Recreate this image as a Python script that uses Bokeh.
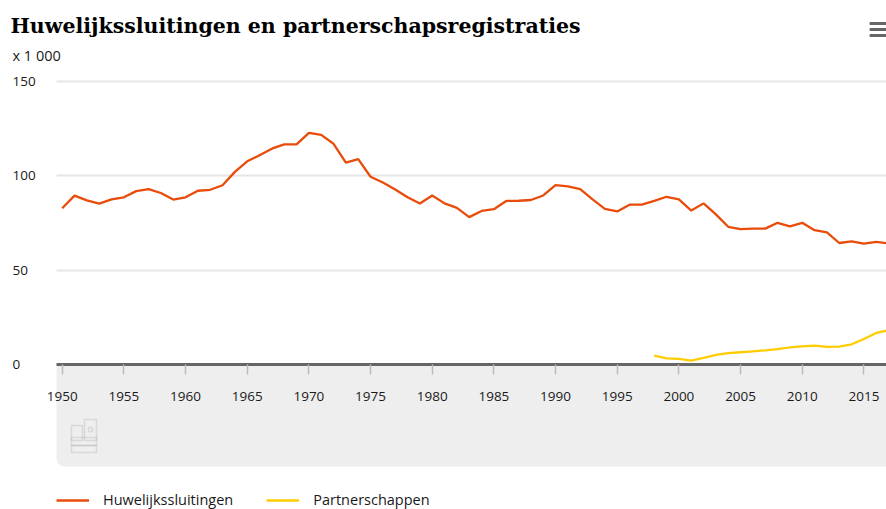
from bokeh.plotting import figure
from bokeh.models import (Range1d, FixedTicker, BoxAnnotation, LabelSet, Label,
                          ColumnDataSource, Legend, LegendItem)
from bokeh.core.properties import value
from bokeh.embed import file_html
from bokeh.resources import INLINE

# ---------------- data (x 1 000) ----------------
years_huwelijk = list(range(1950, 2018))
huwelijkssluitingen = [82.8, 89.5, 87.0, 85.3, 87.5, 88.6, 91.9, 93.0, 90.9, 87.4,
                       88.6, 92.1, 92.6, 95.0, 102.1, 107.7, 110.9, 114.4, 116.7, 116.7,
                       122.8, 121.7, 117.0, 107.0, 108.9, 99.5, 96.5, 92.8, 88.6, 85.3,
                       89.6, 85.4, 83.0, 78.1, 81.4, 82.3, 86.7, 86.8, 87.2, 89.6,
                       95.1, 94.4, 93.0, 87.5, 82.5, 81.1, 84.7, 84.7, 86.7, 88.9,
                       87.5, 81.6, 85.4, 79.6, 73.0, 71.8, 72.0, 72.0, 75.1, 73.2,
                       75.1, 71.2, 70.0, 64.4, 65.3, 64.1, 65.0, 64.2]
years_partner = list(range(1998, 2018))
partnerschappen = [4.7, 3.3, 3.0, 2.1, 3.5, 5.1, 6.0, 6.5, 7.0, 7.5,
                   8.2, 9.1, 9.6, 10.0, 9.3, 9.5, 10.7, 13.5, 16.7, 18.2]
x_ticks = [1950, 1955, 1960, 1965, 1970, 1975, 1980, 1985, 1990, 1995, 2000, 2005, 2010, 2015]
y_ticks = [0, 50, 100, 150]
y_tick_labels = ["0", "50", "100", "150"]
series_names = ["Huwelijkssluitingen", "Partnerschappen"]
title_text = "Huwelijkssluitingen en partnerschapsregistraties"
unit_text = "x 1 000"

ORANGE = "#e94c0a"
YELLOW = "#ffcc00"
FONT = "Open Sans"
TXT = "#1a1a1a"

W, H = 886, 509
# the frame covers the whole canvas; scales chosen so that 1950 -> x 61.7, 0 -> y 364
PX_YEAR = 61.67 / 5
PX_UNIT = 283.0 / 150
x_lo = 1950 - 61.7 / PX_YEAR
x_hi = x_lo + W / PX_YEAR
y_hi = 364 / PX_UNIT
y_lo = -(H - 364) / PX_UNIT
x_plot_left = x_lo + 56 / PX_YEAR   # where the plot area starts (x pixel 56)

p = figure(width=W, height=H, x_range=Range1d(x_lo, x_hi), y_range=Range1d(y_lo, y_hi),
           output_backend="svg", toolbar_location=None,
           min_border_left=0, min_border_right=0, min_border_top=0, min_border_bottom=0)
p.outline_line_color = None
p.background_fill_color = "white"
p.border_fill_color = "white"


def sy(cy):
    return H - cy


# grey band under the axis
p.add_layout(BoxAnnotation(left=56, left_units="screen", top=0, bottom=sy(466), bottom_units="screen",
                           fill_color="#eeeeee", fill_alpha=1,
                           line_color=None, level="underlay", border_radius=(0, 0, 0, 8)))

# axes
p.yaxis.visible = False
p.xgrid.visible = False
p.ygrid.ticker = FixedTicker(ticks=[t for t in y_ticks if t > 0])
p.ygrid.grid_line_color = "#e6e6e6"
p.ygrid.grid_line_width = 2
p.ygrid.cross_bounds = (x_plot_left, x_hi)

xa = p.xaxis[0]
xa.fixed_location = 0
xa.bounds = (x_plot_left, x_hi)
xa.ticker = FixedTicker(ticks=x_ticks)
xa.axis_line_color = "#666666"
xa.axis_line_width = 3
xa.major_tick_line_color = "#bbbbbb"
xa.major_tick_line_width = 1.5
xa.major_tick_out = 10
xa.major_tick_in = 0
xa.minor_tick_line_color = None
xa.major_label_standoff = 17
xa.major_label_text_font = FONT
xa.major_label_text_font_size = "13.5px"
xa.major_label_text_color = TXT

# y tick labels (left aligned)
ysrc = ColumnDataSource(dict(y=y_ticks, text=y_tick_labels))
p.add_layout(LabelSet(x=12, y="y", text="text", x_units="screen", source=ysrc,
                      text_align="left", text_baseline="middle", text_font=value(FONT),
                      text_font_size=value("13.5px"), text_color=TXT))

# lines
r1 = p.line(years_huwelijk, huwelijkssluitingen, line_color=ORANGE, line_width=2.3)
r2 = p.line(years_partner, partnerschappen, line_color=YELLOW, line_width=2.3)

# title and unit
p.add_layout(Label(x=10, y=sy(25), x_units="screen", y_units="screen", text=title_text,
                   text_font="DejaVu Serif", text_font_style="bold", text_font_size="20.5px",
                   text_color="#000000", text_baseline="middle", text_align="left"))
p.add_layout(Label(x=12, y=sy(55), x_units="screen", y_units="screen", text=unit_text,
                   text_font=FONT, text_font_size="14.5px", text_color=TXT,
                   text_baseline="middle", text_align="left"))

# menu icon
for cy in (23, 29, 35):
    p.add_layout(BoxAnnotation(left=869, right=886, top=sy(cy - 1.5), bottom=sy(cy + 1.5),
                               left_units="screen", right_units="screen",
                               top_units="screen", bottom_units="screen",
                               fill_color="#666666", fill_alpha=1, line_color=None,
                               border_radius=1))

# logo (outline)
for (l, r, t, b) in [(71, 82, 425, 440), (84, 96, 419, 440), (88, 92, 427, 431),
                     (71, 96, 437, 445), (71, 96, 445, 452)]:
    p.add_layout(BoxAnnotation(left=l, right=r, top=sy(t), bottom=sy(b),
                               left_units="screen", right_units="screen",
                               top_units="screen", bottom_units="screen",
                               fill_alpha=0, line_color="#aaaaaa", line_width=1.5))

legend = Legend(items=[LegendItem(label=series_names[0], renderers=[r1]),
                       LegendItem(label=series_names[1], renderers=[r2])],
                orientation="horizontal", location=(56, 0))
legend.padding = 0
legend.margin = 0
legend.border_line_color = None
legend.background_fill_alpha = 0
legend.glyph_width = 33
legend.glyph_height = 14
legend.label_height = 18
legend.label_standoff = 14
legend.spacing = 33
legend.label_text_font = FONT
legend.label_text_font_size = "14.5px"
legend.label_text_color = TXT
p.add_layout(legend, "center")

open("out.html", "w").write(file_html(p, INLINE))
